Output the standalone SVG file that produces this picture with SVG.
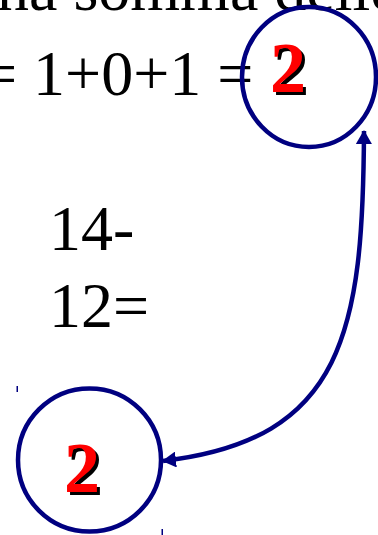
<svg xmlns="http://www.w3.org/2000/svg" width="378" height="535" viewBox="0 0 378 535">
<style>
.t{font-family:"Liberation Serif","Times New Roman",serif;font-size:64px;fill:#000}
.n{font-family:"Liberation Serif","Times New Roman",serif;font-size:72px;font-weight:bold;text-anchor:middle}
.c{fill:none;stroke:#000080;stroke-width:4.5}
.a{fill:none;stroke:#000080;stroke-width:4.5}
.h{fill:#000080}
</style>
<defs>
<marker id="ah" viewBox="0 0 14 16" refX="13" refY="8" markerWidth="14" markerHeight="16" markerUnits="userSpaceOnUse" orient="auto-start-reverse">
<path d="M0,0 L14,8 L0,16 Z" fill="#000080"/>
</marker>
</defs>
<rect width="378" height="535" fill="#fff"/>
<g id="text">
<text class="t" x="-3" y="10">na somma delle cifre</text>
<text class="t" x="-19" y="95">= 1+0+1 =</text>
<text class="t" x="49" y="250">14-</text>
<text class="t" x="49" y="327">12=</text>
</g>
<g id="node-top">
<ellipse class="c" cx="309" cy="77" rx="67" ry="70"/>
<text class="n" x="291" y="95" fill="#000">2</text>
<text class="n" x="288" y="92" fill="#ff0000">2</text>
</g>
<g id="node-bottom">
<circle class="c" cx="89.5" cy="460" r="71.5"/>
<text class="n" x="85" y="495" fill="#000">2</text>
<text class="n" x="82" y="492" fill="#ff0000">2</text>
</g>
<g id="connectors">
<path class="a" d="M364,131 C363,330 345,440 163,461" marker-start="url(#ah)" marker-end="url(#ah)"/>
</g>
<g id="marks">
<rect class="h" x="16.5" y="386" width="1.5" height="6"/>
<rect class="h" x="161.5" y="529" width="1.5" height="6"/>
</g>
</svg>
